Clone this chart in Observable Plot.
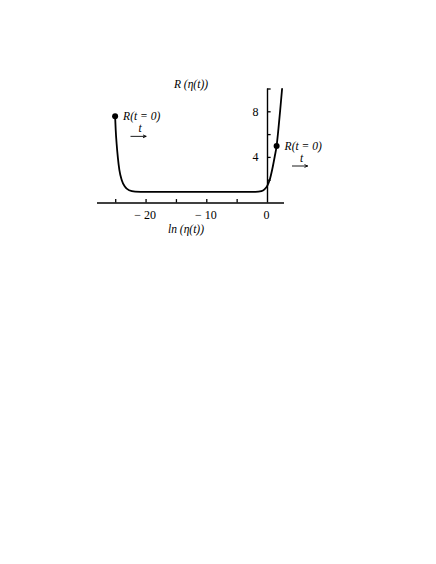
<!DOCTYPE html>
<html>
<head>
<meta charset="utf-8">
<script src="https://cdn.jsdelivr.net/npm/d3@7"></script>
<script src="https://cdn.jsdelivr.net/npm/@observablehq/plot@0.6"></script>
<style>
  html, body { margin: 0; padding: 0; background: #fff; }
  svg { display: block; }
  svg text { font-family: "Liberation Serif", "DejaVu Serif", serif; }
</style>
</head>
<body>
<div id="chart"></div>
<script>
// curve samples: ln(eta(t)) vs R(eta(t))
const lnEta = [-25.1, -25.0, -24.85, -24.65, -24.4, -24.0, -23.5, -22.8, -21.8, -20, -15, -10, -5, -2, -1, -0.5, 0, 0.4, 0.8, 1.2, 1.5, 1.8, 2.1, 2.4];
const rVals = [7.6, 6.4, 5.2, 4.0, 2.9, 2.0, 1.45, 1.12, 1.0, 0.97, 0.97, 0.97, 0.97, 0.98, 1.05, 1.2, 1.55, 2.1, 3.0, 4.1, 5.0, 6.5, 8.2, 10];
// initial states R(t=0)
const startX = [-25.1, 1.5];
const startR = [7.6, 5.0];
const startLabel = ["R(t = 0)", "R(t = 0)"];
// ticks
const xTicks = [-25, -20, -15, -10, -5];
const xTickLabels = [-20, -10, 0];
const yTicks = [2, 4, 6, 8, 10];
const yTickLabels = [4, 8];
const titleText = "R (η(t))";
const xLabelText = "ln (η(t))";

const curve = lnEta.map((x, i) => ({x, r: rVals[i]}));
const starts = startX.map((x, i) => ({x, r: startR[i], label: startLabel[i]}));
const fmt = d => d < 0 ? "− " + (-d) : String(d);
const serif = "Liberation Serif";

const plot = Plot.plot({
  width: 436,
  height: 564,
  marginLeft: 97,
  marginRight: 152,
  marginTop: 88.5,
  marginBottom: 361.5,
  x: {domain: [-28, 2.8], axis: null},
  y: {domain: [0, 10], axis: null},
  style: {fontSize: "11.5px", background: "#fff", color: "#000"},
  marks: [
    Plot.ruleY([0], {stroke: "#000", strokeWidth: 1.4}),
    Plot.ruleX([0], {y1: 0, y2: 10, stroke: "#000", strokeWidth: 1.4}),
    Plot.ruleX(xTicks, {x: d => d, y1: 0, y2: 0.3, stroke: "#000", strokeWidth: 1.3}),
    Plot.ruleY(yTicks, {y: d => d, x1: 0, x2: 0.6, stroke: "#000", strokeWidth: 1.3}),
    Plot.text(xTickLabels, {x: d => d, y: 0, text: fmt, dy: 12, dx: -1, fontSize: 12, fontFamily: serif, fill: "#000", textAnchor: "middle"}),
    Plot.text(yTickLabels, {x: 0, y: d => d, text: d => String(d), dx: -9, fontSize: 12, fontFamily: serif, fill: "#000", textAnchor: "end"}),
    Plot.line(curve, {x: "x", y: "r", curve: "monotone-x", stroke: "#000", strokeWidth: 1.8}),
    Plot.dot(starts, {x: "x", y: "r", r: 3, fill: "#000"}),
    Plot.text(starts, {x: "x", y: "r", text: "label", dx: 8, textAnchor: "start", fontStyle: "italic", fontFamily: serif, fill: "#000"}),
    Plot.text(starts, {x: "x", y: "r", text: () => "t", dx: 25, dy: 12, fontStyle: "italic", fontFamily: serif, fill: "#000"}),
    Plot.arrow(starts, {x1: d => d.x + 2.6, x2: d => d.x + 5.1, y1: "r", y2: "r", dy: 20, stroke: "#000", strokeWidth: 0.9, headLength: 5, headAngle: 50}),
    Plot.text([titleText], {frameAnchor: "top", lineAnchor: "middle", text: d => d, dy: -4.5, fontStyle: "italic", fontFamily: serif, fill: "#000"}),
    Plot.text([xLabelText], {frameAnchor: "bottom", lineAnchor: "middle", text: d => d, dx: -5, dy: 26, fontStyle: "italic", fontFamily: serif, fill: "#000"})
  ]
});
document.getElementById("chart").appendChild(plot);
</script>
</body>
</html>
